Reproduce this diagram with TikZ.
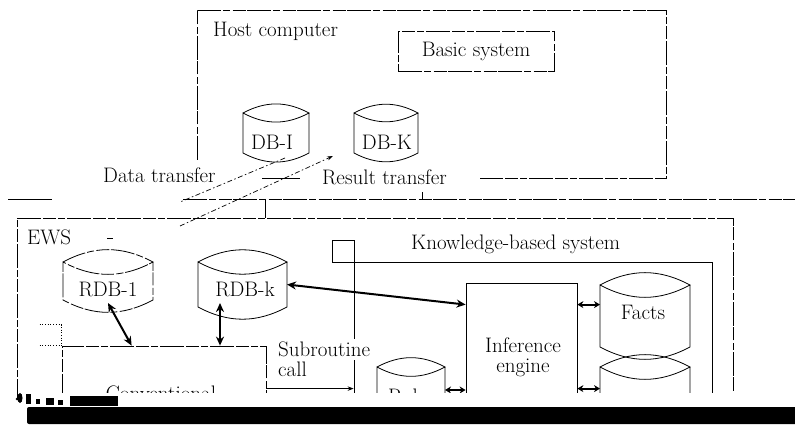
\documentclass[tikz,border=0pt]{standalone}
\usepackage{fontspec}
\usetikzlibrary{arrows.meta,calc}

% outline of a disk store drawn round a (transparent) body node
\newcommand\drum[2][frame]{%
  \draw[#1] (#2.north west) to[bend left=28] (#2.north east)
            to[bend left=28] (#2.north west) -- (#2.south west)
            to[bend right=28] (#2.south east) -- (#2.north east);}

\begin{document}
\begin{tikzpicture}[x=1pt,y=-1pt,
  every node/.style={inner sep=0pt, font=\fontsize{21}{20}\selectfont},
  frame/.style={line width=0.8pt},
  worn/.style={line width=0.8pt, dash pattern=on 24pt off 2pt on 7pt off 2.5pt on 13pt off 1.5pt},
  body/.style 2 args={minimum width=#1, minimum height=#2, inner sep=0pt, outer sep=0pt},
  link/.style={line width=2pt, {Stealth[length=9pt,width=8pt]}-{Stealth[length=9pt,width=8pt]}},
  stub/.style={line width=2pt, {Stealth[length=6pt,width=7pt]}-{Stealth[length=6pt,width=7pt]}},
  transfer/.style={line width=0.7pt, dash pattern=on 5pt off 2.5pt on 1.5pt off 2.5pt},
  callarrow/.style={line width=0.8pt, -{Stealth[length=6pt,width=4.5pt]}},
]
\useasboundingbox[fill=white] (0,0) rectangle (795,427);

\begin{scope}
\clip (0,0) rectangle (795,393);

% ---------- host computer ----------
\node[body={469pt}{168pt}] (host) at (431.5,94) {};
\draw[worn] ($(host.south west)+(0,-18)$) -- (host.north west) -- (host.north east)
            -- (host.south east) -- ($(host.south east)+(-186,0)$);
\draw[frame] ($(host.south west)+(65,0)$) -- ($(host.south west)+(103,0)$);
\node[anchor=base west] (hostlbl) at (213,37) {Host computer};
\node[draw, worn, minimum width=156pt, minimum height=40pt] (basic) at (476,51) {Basic system};

\node[body={66pt}{40pt}] (db1) at (276,133) {};
\drum{db1}
\node[anchor=base] (db1lbl) at (272,150) {DB-I};
\node[body={64pt}{40pt}] (dbk) at (386,133) {};
\drum{dbk}
\node[anchor=base] (dbklbl) at (387,150) {DB-K};

\node[anchor=base west] (datalbl) at (103,183) {Data transfer};
\node[anchor=base west] (reslbl) at (322,185) {Result transfer};

% ---------- network ----------
\coordinate (netL) at (8,199);
\coordinate (netM) at (52,199);
\coordinate (netN) at (183,199);
\coordinate (netR) at (795,199);
\coordinate (netA) at (422,199);
\coordinate (netB) at (265,199);
\draw[frame] (netL) -- (netM);
\draw[worn] (netN) -- (netR);
\draw[frame] (netA) -- ++(0,-7);

% ---------- EWS ----------
\node[draw, worn, minimum width=716pt, minimum height=342pt] (ews) at (375,389) {};
\draw[frame] (netB) -- (netB |- ews.north);
\node[anchor=base west] (ewslbl) at (27,245) {EWS};
\draw[frame] (107,238) -- (113,238);

\node[body={90pt}{38pt}] (rdb1) at (108,281) {};
\drum[worn]{rdb1}
\node[anchor=base] (rdb1lbl) at (108,297) {RDB-1};
\node[body={89pt}{45pt}] (rdbk) at (242.5,284.5) {};
\drum{rdbk}
\node[anchor=base] (rdbklbl) at (245,297) {RDB-k};

\node[draw, worn, minimum width=204pt, minimum height=214pt] (conv) at (164,453) {};
\draw[dotted, line width=0.7pt] ($(conv.north west)+(-22,-21)$) -- ($(conv.north west)+(0,-21)$) -- (conv.north west);
\draw[dotted, line width=0.7pt] ($(conv.north west)+(-22,0)$) -- (conv.north west);
\node[anchor=base] (convlbl) at (161,400) {Conventional};

% ---------- knowledge-based system ----------
\node[draw, frame, minimum width=358pt, minimum height=298pt] (kbs) at (533,411) {};
\node[draw, frame, minimum width=22pt, minimum height=22pt] (tab) at (343,251) {};
\node[anchor=base west] (kbslbl) at (411,250) {Knowledge-based system};

\node[draw, frame, minimum width=111pt, minimum height=277pt] (inf) at (521.5,421.5) {};
\node[anchor=base] (inflbl1) at (523,353) {Inference};
\node[anchor=base] (inflbl2) at (523,373) {engine};

\node[body={90pt}{62pt}] (facts) at (645,316) {};
\drum{facts}
\node[anchor=base] (factslbl) at (643,320) {Facts};
\node[body={90pt}{62pt}] (store) at (645,398) {};
\drum{store}
\node[body={68pt}{60pt}] (rules) at (411,397) {};
\drum{rules}
\node[anchor=base] (ruleslbl) at (411,403) {Rules};

\node[anchor=base west, fill=white, inner ysep=3pt] (sublbl1) at (278,357) {Subroutine};
\node[anchor=base west] (sublbl2) at (278,377) {call};

% ---------- connectors ----------
\draw[link] (rdbk.east) -- ($(inf.north west)+(0,22)$);
\draw[link] ($(rdb1.south)+(0,3)$) -- ($(conv.north west)+(70,0)$);
\coordinate (rdbkfoot) at ($(rdbk.south)+(-22.5,-4)$);
\draw[link] (rdbkfoot) -- (rdbkfoot |- conv.north);
\coordinate (factsport) at ($(inf.north east)+(0,22)$);
\draw[stub] (factsport) -- (factsport -| facts.west);
\coordinate (storeport) at ($(inf.north east)+(0,106)$);
\draw[stub] (storeport) -- (storeport -| store.west);
\coordinate (rulesport) at ($(rules.east)+(0,-7)$);
\draw[stub] (rulesport) -- (rulesport -| inf.west);
\coordinate (callport) at ($(conv.north east)+(0,43)$);
\draw[callarrow] (callport) -- (callport -| kbs.west);

% data and result transfer between the host and the EWS
\coordinate (dataend) at (180,202);
\draw[transfer] ($(db1.south)+(9,5)$) -- (dataend);
\coordinate (resstart) at (180,226);
\draw[transfer, -{Stealth[length=6pt,width=4pt]}] (resstart) -- ($(dbk.south west)+(-21,3)$);
\end{scope}

% ink blots along the lower edge
\draw[frame] (17,392) -- (17,399);
\fill (17,399) circle (1.5);
\fill[rounded corners=2pt] (27,407) rectangle (800,424);
\fill (70,396) rectangle (118,406);
\fill (20,398) ellipse (2.5 and 5);
\fill (26,394) rectangle (31,404);
\fill (36,399) rectangle (40,404);
\fill (46,398) rectangle (54,405);
\fill (58,400) rectangle (63,405);
\end{tikzpicture}
\end{document}
